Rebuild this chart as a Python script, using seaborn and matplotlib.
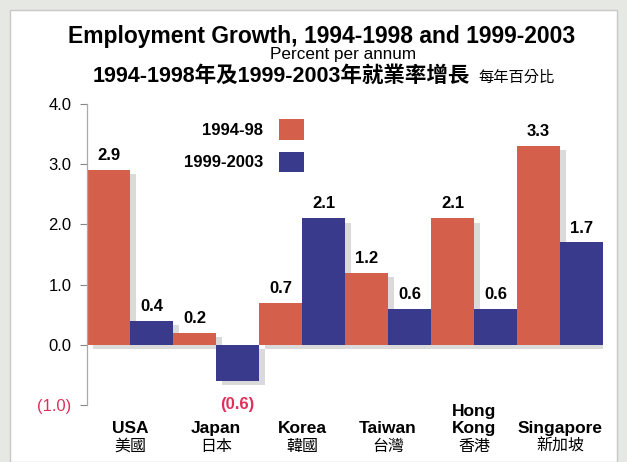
import matplotlib
matplotlib.use('Agg')
import matplotlib.pyplot as plt
import matplotlib.transforms as mtransforms
from matplotlib.patches import Rectangle, Patch
import pandas as pd
import seaborn as sns

countries_en = ['USA', 'Japan', 'Korea', 'Taiwan', 'Hong\nKong', 'Singapore']
countries_zh = ['美國', '日本', '韓國', '台灣', '香港', '新加坡']
periods = ['1994-98', '1999-2003']
growth_9498 = [2.9, 0.2, 0.7, 1.2, 2.1, 3.3]
growth_9903 = [0.4, -0.6, 2.1, 0.6, 0.6, 1.7]
yticks = [-1.0, 0.0, 1.0, 2.0, 3.0, 4.0]

colors = ['#d4604c', '#393a8c']
neg_color = '#e0305a'
FONT = ['Liberation Sans', 'Noto Sans CJK TC', 'DejaVu Sans']

df = pd.DataFrame({
    'country': countries_en * 2,
    'period': [periods[0]] * 6 + [periods[1]] * 6,
    'growth': growth_9498 + growth_9903,
})

sns.set_style('white')
plt.rcParams['font.family'] = FONT
plt.rcParams['text.color'] = 'black'
plt.rcParams['ytick.labelcolor'] = 'black'

fig = plt.figure(figsize=(6.27, 4.62), dpi=100, facecolor='#e6e8e3')
fig.patches.append(Rectangle((0.016, 0.0), 0.968, 0.978, transform=fig.transFigure,
                             facecolor='white', edgecolor='#c8c8c8', lw=1, zorder=-5))
ax = fig.add_axes([0.1388, 0.1234, 0.823, 0.6515])
ax.set_facecolor('none')

# soft drop shadow: same bars in grey, nudged right/down, drawn underneath
sns.barplot(data=df, x='country', y='growth', hue='period', order=countries_en,
            hue_order=periods, palette=['#dadada', '#dadada'], width=1.0, saturation=1,
            linewidth=0, ax=ax, legend=False)
shift = mtransforms.ScaledTranslation(4 / 72, -3 / 72, fig.dpi_scale_trans)
for p in list(ax.patches):
    p.set_transform(ax.transData + shift)
    p.set_zorder(0.5)
n_shadow = len(ax.containers)

sns.barplot(data=df, x='country', y='growth', hue='period', order=countries_en,
            hue_order=periods, palette=colors, width=1.0, saturation=1,
            linewidth=0, ax=ax, legend=False)

ax.set_xlim(-0.5, 5.5)
ax.set_ylim(-1.0, 4.0)
ax.set_yticks(yticks)
ax.set_yticklabels(['(1.0)' if t < 0 else f'{t:.1f}' for t in yticks], fontsize=12)
ax.get_yticklabels()[0].set_color(neg_color)
ax.tick_params(axis='y', length=5, width=0.8, color='#888888', pad=6, left=True)
ax.set_xticks([])
ax.set_xlabel('')
ax.set_ylabel('')
for s in ['top', 'right', 'bottom']:
    ax.spines[s].set_visible(False)
ax.spines['left'].set_color('#aaaaaa')
ax.spines['left'].set_linewidth(0.9)

for cont in ax.containers[n_shadow:]:
    labels = []
    for bar in cont:
        v = bar.get_height()
        if v < 0:
            labels.append('')
            ax.text(bar.get_x() + bar.get_width() / 2, -1.0, f'({abs(v):.1f})',
                    ha='center', va='center', fontsize=12, fontweight='bold', color=neg_color)
        else:
            labels.append(f'{v:.1f}')
    ax.bar_label(cont, labels=labels, padding=5, fontsize=12, fontweight='bold')

# category labels
trans = mtransforms.blended_transform_factory(ax.transData, fig.transFigure)
for i, (en, zh) in enumerate(zip(countries_en, countries_zh)):
    ax.text(i, 1 - 436 / 462, en, transform=trans, ha='center', va='bottom',
            fontsize=12.5, fontweight='bold', linespacing=1.2)
    ax.text(i, 1 - 439 / 462, zh, transform=trans, ha='center', va='top', fontsize=11.5)

handles = [Patch(facecolor=c, edgecolor='none') for c in colors]
ax.legend(handles, periods, loc='upper left', bbox_to_anchor=(0.158, 1.0),
          frameon=False, markerfirst=False, handlelength=1.5, handleheight=1.55,
          handletextpad=1.0, labelspacing=0.7, prop={'weight': 'bold', 'size': 12},
          alignment='right')

fig.text(0.513, 1 - 36 / 462, 'Employment Growth, 1994-1998 and 1999-2003',
         ha='center', va='center', fontsize=16.5, fontweight='bold')
fig.text(0.547, 1 - 55 / 462, 'Percent per annum', ha='center', va='center', fontsize=12.3)
fig.text(93 / 627, 1 - 76 / 462, '1994-1998年及1999-2003年就業率增長',
         ha='left', va='center', fontsize=15.5, fontweight='bold')
fig.text(478 / 627, 1 - 78 / 462, '每年百分比', ha='left', va='center', fontsize=11)

fig.savefig('out.png', dpi=100, facecolor=fig.get_facecolor())
